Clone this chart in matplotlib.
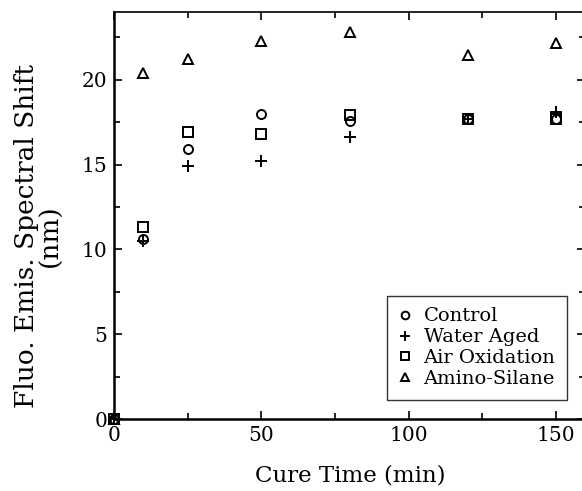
import matplotlib
matplotlib.use("Agg")
import matplotlib.pyplot as plt
from matplotlib.ticker import MultipleLocator

plt.rcParams['font.family'] = ['DejaVu Serif']
plt.rcParams['mathtext.fontset'] = 'dejavuserif'

cure_time = [0, 10, 25, 50, 80, 120, 150]
control = [0, 10.6, 15.9, 18.0, 17.6, 17.7, 17.7]
water_aged = [0, 10.5, 14.9, 15.2, 16.6, 17.7, 18.1]
air_oxidation = [0, 11.3, 16.9, 16.8, 17.9, 17.7, 17.7]
amino_silane = [0, 20.4, 21.2, 22.3, 22.8, 21.45, 22.2]

fig = plt.figure(figsize=(5.82, 4.91), dpi=100)
ax = fig.add_axes([0.1959, 0.1466, 1.006 - 0.1959, 0.9756 - 0.1466])

kw = dict(linestyle='none', color='black', markerfacecolor='none', markeredgewidth=1.4, clip_on=False)
ax.plot(cure_time, control, marker='o', markersize=6.5, label='Control', **kw)
ax.plot(cure_time, water_aged, marker='+', markersize=9, label='Water Aged', **kw)
ax.plot(cure_time, air_oxidation, marker='s', markersize=6.5, label='Air Oxidation', **kw)
ax.plot(cure_time, amino_silane, marker='^', markersize=6.5, label='Amino-Silane', **kw)

ax.set_xlim(0, 160)
ax.set_ylim(0, 24)
ax.xaxis.set_major_locator(MultipleLocator(50))
ax.xaxis.set_minor_locator(MultipleLocator(25))
ax.yaxis.set_major_locator(MultipleLocator(5))
ax.yaxis.set_minor_locator(MultipleLocator(2.5))
ax.tick_params(which='both', direction='in', top=True, right=True, labelsize=14.5, width=1.2)
ax.tick_params(which='major', length=6, pad=5)
ax.tick_params(which='minor', length=4)
for s in ['left', 'bottom']:
    ax.spines[s].set_linewidth(1.8)
ax.spines['top'].set_linewidth(1.2)
ax.spines['right'].set_visible(False)

ax.set_xlabel('Cure Time (min)', fontsize=16.5, labelpad=14)
ax.set_ylabel('Fluo. Emis. Spectral Shift\n(nm)', fontsize=19, linespacing=0.95)
ax.yaxis.set_label_coords(-0.108, 0.45)

leg = ax.legend(loc='lower right', bbox_to_anchor=(0.961, 0.047), fontsize=14, frameon=True,
                fancybox=False, edgecolor='black', handletextpad=0.6, borderpad=0.6,
                labelspacing=0.15, handlelength=0.7, borderaxespad=0, markerscale=0.85)
leg.get_frame().set_linewidth(1.0)

fig.savefig('out.png', dpi=100)
